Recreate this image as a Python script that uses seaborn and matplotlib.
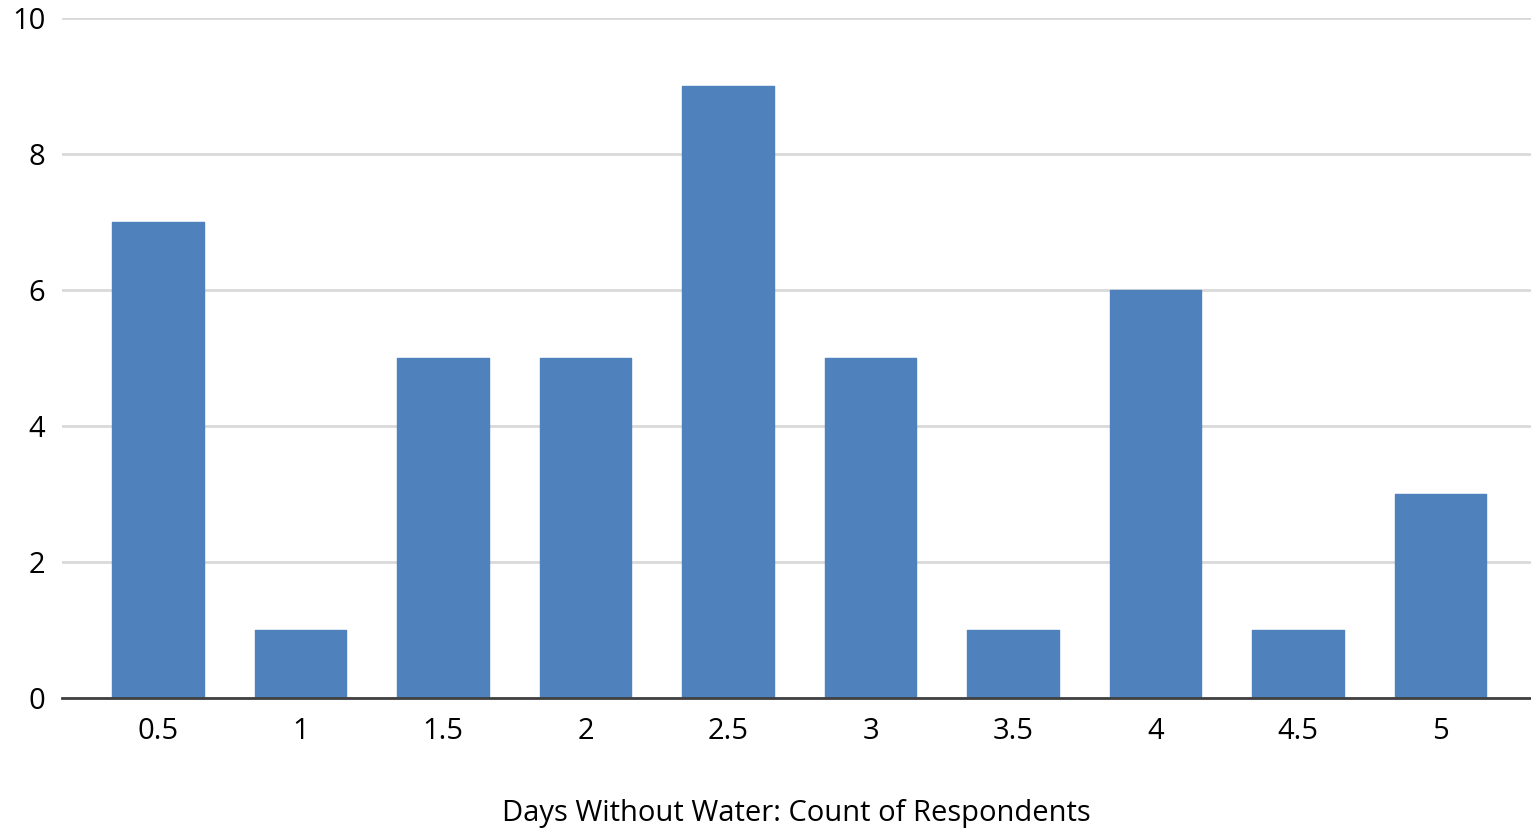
import matplotlib
matplotlib.use("Agg")
import matplotlib.pyplot as plt
import seaborn as sns
import pandas as pd

days = ["0.5", "1", "1.5", "2", "2.5", "3", "3.5", "4", "4.5", "5"]
respondents = [7, 1, 5, 5, 9, 5, 1, 6, 1, 3]

sns.set_theme(style="white")
plt.rcParams['font.family'] = ['Open Sans', 'DejaVu Sans']

df = pd.DataFrame({"days": days, "count": respondents})

fig = plt.figure(figsize=(15.31, 8.30), dpi=100)
ax = fig.add_axes([0.0405, 0.159, 0.9595, 0.819])

sns.barplot(data=df, x="days", y="count", color="#4f81bd", saturation=1,
            width=0.64, ax=ax, zorder=3)
for p in ax.patches:
    p.set_edgecolor("#4f81bd")
    p.set_linewidth(1.0)
    p.set_joinstyle("round")

ax.set_ylim(0, 10)
ax.set_xlim(-0.674, 9.635)
ax.set_yticks([0, 2, 4, 6, 8, 10])
ax.yaxis.grid(True, color="#d9d9d9", linewidth=2, zorder=0)
ax.set_axisbelow(True)
for s in ["top", "right", "left"]:
    ax.spines[s].set_visible(False)
ax.spines["bottom"].set_color("#404040")
ax.spines["bottom"].set_linewidth(2)
ax.spines["bottom"].set_zorder(4)
ax.tick_params(axis="both", length=0, labelsize=21, labelcolor="#000000")
ax.tick_params(axis="x", pad=14)
ax.tick_params(axis="y", pad=12)
ax.set_ylabel("")
ax.set_xlabel("Days Without Water: Count of Respondents", fontsize=21,
              color="#000000", labelpad=38)

fig.savefig("out.png", dpi=100)
